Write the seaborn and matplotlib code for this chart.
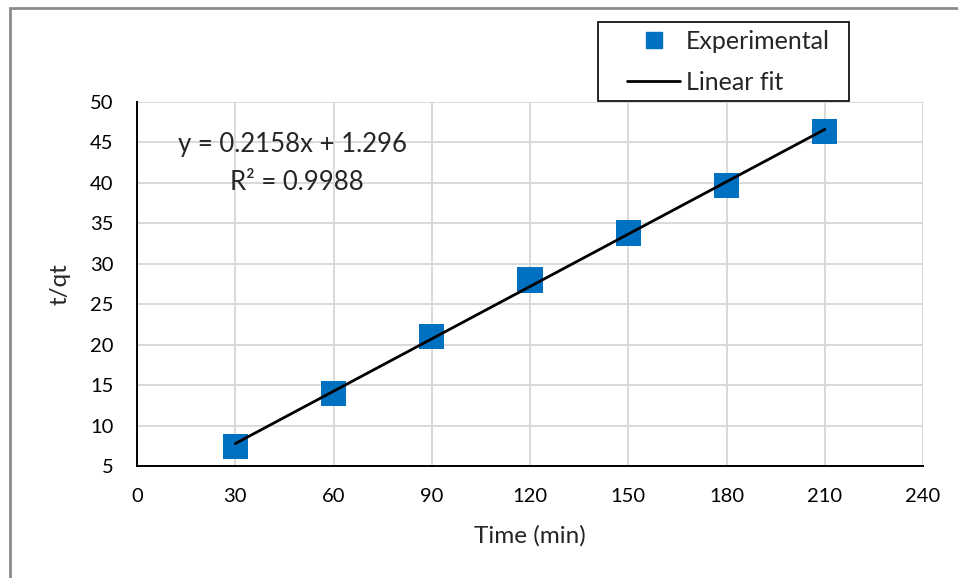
import numpy as np
import pandas as pd
import matplotlib
matplotlib.use("Agg")
import matplotlib.pyplot as plt
import seaborn as sns
from matplotlib.lines import Line2D
from matplotlib.patches import Rectangle

# ---- data ----
time_min = [30, 60, 90, 120, 150, 180, 210]
t_qt = [7.4, 14.0, 21.0, 28.0, 33.8, 39.7, 46.4]
slope = 0.2158
intercept = 1.296
r_squared = 0.9988
x_ticks = [0, 30, 60, 90, 120, 150, 180, 210, 240]
y_ticks = [5, 10, 15, 20, 25, 30, 35, 40, 45, 50]

sns.set_style("white")
plt.rcParams['font.family'] = ['Lato', 'DejaVu Sans']

df = pd.DataFrame({"Time (min)": time_min, "t/qt": t_qt})
fit_x = np.array([time_min[0], time_min[-1]], dtype=float)
fit_df = pd.DataFrame({"x": fit_x, "y": slope * fit_x + intercept})

W, H = 958, 578
fig = plt.figure(figsize=(W/100, H/100), dpi=100)
ax = fig.add_axes([137/W, 1-466/H, (923-137)/W, (466-102)/H])

blue = "#0070C0"
sns.scatterplot(data=df, x="Time (min)", y="t/qt", marker="s", s=330, color=blue,
                edgecolor="none", ax=ax, zorder=3, legend=False)
sns.lineplot(data=fit_df, x="x", y="y", color="black", linewidth=2, ax=ax, zorder=4,
             legend=False)

ax.set_xlim(0, 240)
ax.set_ylim(5, 50)
ax.set_xticks(x_ticks)
ax.set_yticks(y_ticks)
ax.grid(True, color="#d9d9d9", linewidth=1.4)
ax.set_axisbelow(True)
for s in ["top", "right"]:
    ax.spines[s].set_visible(False)
for s in ["left", "bottom"]:
    ax.spines[s].set_color("black")
    ax.spines[s].set_linewidth(1.4)
ax.tick_params(axis="both", direction="out", length=6, width=1.4, color="black",
               labelsize=14.5, labelcolor="black")
ax.tick_params(axis="y", pad=11)
ax.tick_params(axis="x", pad=10)
ax.set_xlabel("Time (min)", fontsize=17.5, labelpad=14)
ax.set_ylabel("t/qt", fontsize=17.5, labelpad=14)

ax.text(47.6, 44.7, f"y = {slope}x + {intercept}", fontsize=18.5, ha="center", va="center")
ax.text(48.9, 40.1, f"R² = {r_squared}", fontsize=18.5, ha="center", va="center")

# legend (frame drawn separately to match the reference padding)
fs = 18
handles = [Line2D([], [], marker="s", linestyle="none", color=blue, markersize=12),
           Line2D([], [], color="black", linewidth=2)]
leg = fig.legend(handles, ["Experimental", "Linear fit"], loc="upper left",
                 bbox_to_anchor=(627/W, 1-30/H), bbox_transform=fig.transFigure,
                 frameon=False, fontsize=fs,
                 handlelength=2.12, handletextpad=0.24, borderpad=0,
                 labelspacing=0.72, borderaxespad=0)
leg.set_zorder(6)
fig.patches.append(Rectangle((598/W, 1-101/H), (849-598)/W, 79/H, transform=fig.transFigure,
                             fill=True, facecolor="white", edgecolor="black",
                             linewidth=1.2, zorder=5))

# outer chart border (partly cropped in reference)
fig.patches.append(Rectangle((10/W, -0.05), 1.1, 1-8/H+0.05, transform=fig.transFigure,
                             fill=False, edgecolor="#8c8c8c", linewidth=2, zorder=0))

fig.savefig("out.png", dpi=100)
